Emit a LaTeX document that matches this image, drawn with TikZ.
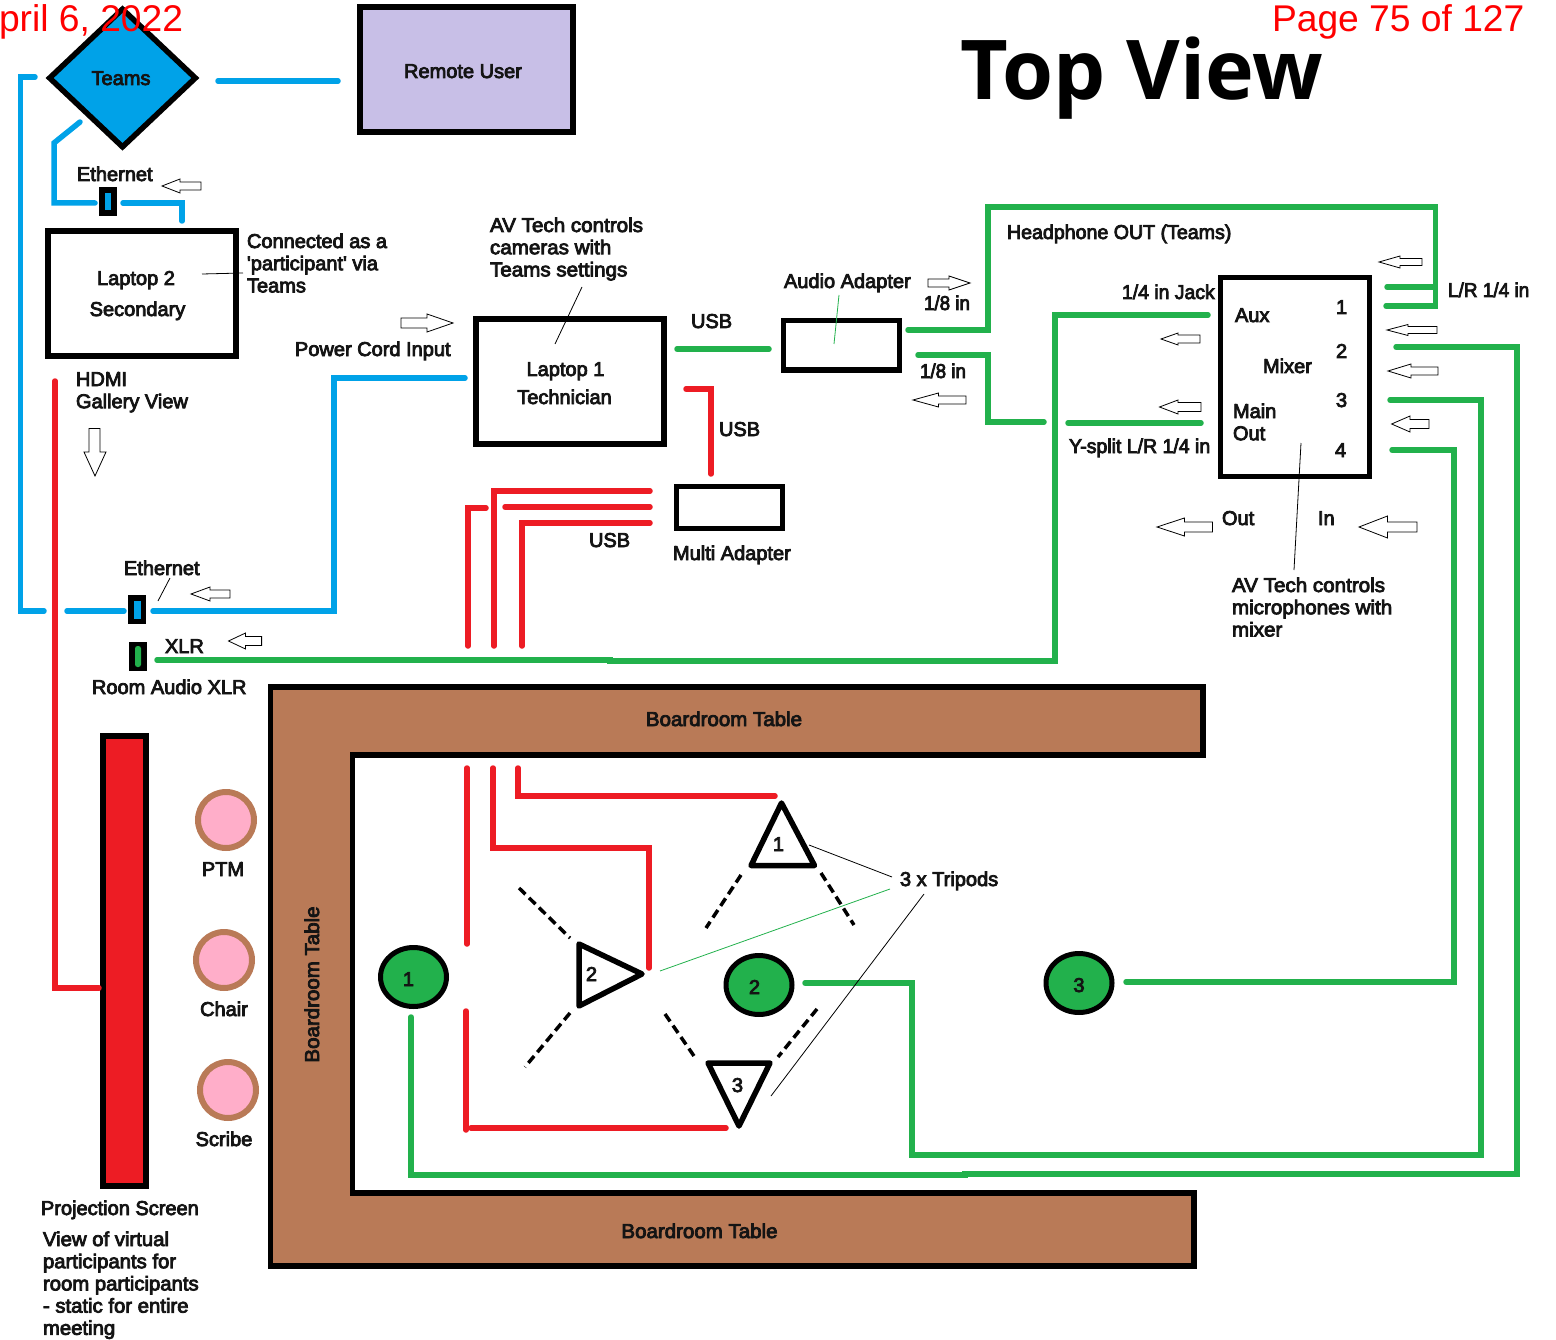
\documentclass[tikz,border=0pt]{standalone}
\usepackage{fontspec}
\usetikzlibrary{shapes.geometric}
\setmainfont{Liberation Sans}
\newfontfamily\lblfont[FakeBold=4]{Liberation Sans}
\newfontfamily\titlefont{Open Sans Bold}
\definecolor{cblue}{HTML}{00A2E8}
\definecolor{cred}{HTML}{ED1C24}
\definecolor{cgreen}{HTML}{22B14C}
\definecolor{cbrown}{HTML}{B97A57}
\definecolor{cpink}{HTML}{FFAEC9}
\definecolor{clav}{HTML}{C8BFE7}
\tikzset{
 lbl/.style={font=\lblfont\fontsize{20}{22.2}\selectfont,anchor=base west,inner sep=0pt,outer sep=0pt,align=left,text=black!92},
 clbl/.style={lbl,anchor=base,align=center},
 wire/.style={line width=5.5pt,line cap=round,line join=miter},
 bluew/.style={wire,draw=cblue},
 redw/.style={wire,draw=cred},
 greenw/.style={wire,draw=cgreen},
 box/.style={draw=black,line width=6pt,inner sep=0pt,outer sep=0pt,fill=white},
 jack/.style={draw=none,fill=black,inner sep=0pt,outer sep=0pt},
 person/.style={circle,draw=cbrown,fill=cpink,line width=6pt,minimum size=56pt,inner sep=0pt},
 mic/.style={ellipse,draw=black,fill=cgreen,line width=5pt,minimum width=66pt,minimum height=59pt,inner sep=0pt},
 tri/.style={draw=black,line width=5.5pt,line join=round,fill=white},
 leg/.style={draw=black,line width=3.5pt,dash pattern=on 9pt off 5pt},
 leader/.style={draw=black,line width=0.8pt},
 blockarrow/.style={draw=black,line width=0.8pt,fill=white},
 red big/.style={font=\fontsize{37.2}{40}\selectfont,text=red,anchor=base west,inner sep=0pt,outer sep=0pt},
}
% horizontal outline arrow: tip x, y, head-base x, tail x, shaft half, head half
\newcommand{\harrow}[6]{\draw[blockarrow] (#1,#2)--(#3,#2-#6)--(#3,#2-#5)--(#4,#2-#5)--(#4,#2+#5)--(#3,#2+#5)--(#3,#2+#6)--cycle;}
\begin{document}
\begin{tikzpicture}[x=1pt,y=-1pt]
\useasboundingbox (0,0) rectangle (1556,1340);
% ---- tables
\draw[draw=black,line width=5.5pt,fill=cbrown,line join=miter] (270.5,687)--(1203,687)--(1203,755)--(352.5,755)--(352.5,1193)--(1194,1193)--(1194,1266)--(270.5,1266)--cycle;
% ---- main boxes
\node[diamond,draw=black,fill=cblue,line width=5.5pt,minimum width=148pt,minimum height=140pt,aspect=1.06,inner sep=0pt] (teams) at (122.5,78) {};
\node[box,fill=clav,minimum width=213pt,minimum height=125pt] (remote) at (466.5,69.5) {};
\node[box,minimum width=188pt,minimum height=125pt] (lap2) at (142,293.5) {};
\node[box,minimum width=188pt,minimum height=125pt] (lap1) at (570,381.5) {};
\node[box,line width=5pt,minimum width=116pt,minimum height=49pt] (audio) at (841.5,345.5) {};
\node[box,line width=5pt,minimum width=106pt,minimum height=42pt] (multi) at (729,507.5) {};
\node[box,line width=5pt,minimum width=149pt,minimum height=199.5pt] (mixer) at (1294.5,377.2) {};
\node[box,fill=cred,minimum width=43pt,minimum height=450pt] (screen) at (124.5,961) {};
% jacks
\node[jack,minimum width=18pt,minimum height=29pt] (jackT) at (108,201.5) {};
\node[jack,fill=cblue,minimum width=6pt,minimum height=17pt] (jackTi) at (108,201.5) {};
\node[jack,minimum width=18pt,minimum height=29pt] (jackE) at (137,609.5) {};
\node[jack,fill=cblue,minimum width=7pt,minimum height=18pt] (jackEi) at (137.5,610) {};
\node[jack,minimum width=18pt,minimum height=29pt] (jackX) at (138,656.5) {};
\node[jack,fill=cgreen,rounded corners=2.5pt,minimum width=6pt,minimum height=21pt] (jackXi) at (138,656.5) {};
% people and microphones
\node[person] (ptm) at (226,820) {};
\node[person] (chair) at (224,960) {};
\node[person] (scribe) at (228,1090) {};
\node[mic] (m1) at (413.5,977) {};
\node[mic] (m2) at (759,985) {};
\node[mic] (m3) at (1079,983) {};
% ---- named wire ends
\coordinate (bA) at (35,77); \coordinate (bB) at (44,611);
\coordinate (bC) at (218,81); \coordinate (bD) at (338,81);
\coordinate (bE) at (80,122); \coordinate (bF) at (95,203);
\coordinate (bG) at (123,203); \coordinate (bH) at (182,221);
\coordinate (bI) at (67,611); \coordinate (bJ) at (124,611);
\coordinate (bK) at (153,611); \coordinate (bL) at (465,378);
\coordinate (rA) at (55,381); \coordinate (rB) at (99,988);
\coordinate (rC) at (686,389); \coordinate (rD) at (711,474);
\coordinate (rE) at (650,491); \coordinate (rF) at (494,646);
\coordinate (rG) at (650,507); \coordinate (rH) at (505,507);
\coordinate (rI) at (486,508); \coordinate (rJ) at (468,646);
\coordinate (rK) at (650,523); \coordinate (rL) at (522,646);
\coordinate (rM) at (467,768); \coordinate (rN) at (467,944);
\coordinate (rO) at (493,768); \coordinate (rP) at (649,968);
\coordinate (rQ) at (518,768); \coordinate (rR) at (775,796);
\coordinate (rS) at (466,1011); \coordinate (rT) at (466,1130);
\coordinate (rU) at (471,1128); \coordinate (rV) at (726,1128);
\coordinate (rW) at (677,349); \coordinate (rX) at (769,349);
\coordinate (gA) at (908,330); \coordinate (gB) at (1386,306);
\coordinate (gC) at (1387,287); \coordinate (gD) at (1435,287);
\coordinate (gE) at (918,355); \coordinate (gF) at (1044,422);
\coordinate (gG) at (1068,423); \coordinate (gH) at (1201,423);
\coordinate (gI) at (1208,315); \coordinate (gJ) at (157,660);
\coordinate (gK) at (1396,347); \coordinate (gL) at (411,1017);
\coordinate (gM) at (1390,400); \coordinate (gN) at (805,983);
\coordinate (gO) at (1392,450); \coordinate (gP) at (1126,982);
% ---- blue wires
\draw[bluew] (bA)--(20.5,77)--(20.5,611)--(bB);
\draw[bluew] (bC)--(bD);
\draw[bluew] (bE)--(54,143)--(54,203)--(bF);
\draw[bluew] (bG)-|(bH);
\draw[bluew] (bI)--(bJ);
\draw[bluew] (bK)--(334,611)--(334,378)--(bL);
% ---- red wires
\draw[redw] (rA)|-(rB);
\draw[redw] (rC)-|(rD);
\draw[redw] (rE)-|(rF);
\draw[redw] (rG)--(rH);
\draw[redw] (rI)-|(rJ);
\draw[redw] (rK)-|(rL);
\draw[redw] (rM)--(rN);
\draw[redw] (rO)--(493,848)--(649,848)--(rP);
\draw[redw] (rQ)|-(rR);
\draw[redw] (rS)--(rT);
\draw[redw] (rU)--(rV);
% ---- green wires
\draw[greenw] (rW)--(rX);
\draw[greenw] (gA)--(988,330)--(988,207)--(1435.5,207)--(1435.5,306)--(gB);
\draw[greenw] (gC)--(gD);
\draw[greenw] (gE)--(988,355)--(988,422)--(gF);
\draw[greenw] (gG)--(gH);
\draw[greenw] (gI)--(1055,315)--(1055,661)--(610,661)--(610,660)--(gJ);
\draw[greenw] (gK)--(1517,347)--(1517,1174)--(965,1174)--(965,1175)--(411,1175)--(gL);
\draw[greenw] (gM)--(1481,400)--(1481,1155)--(912,1155)--(912,983)--(gN);
\draw[greenw] (gO)--(1454,450)--(1454,982)--(gP);
% ---- tripods
\draw[tri] (781.5,803)--(814.5,865.5)--(751,865.5)--cycle;
\draw[tri] (579,944)--(642,974)--(579,1006)--cycle;
\draw[tri] (708,1063)--(770,1063)--(739,1126)--cycle;
\draw[leg] (741,875)--(706,928);
\draw[leg] (821,873)--(854,925);
\draw[leg] (519,888)--(570,938);
\draw[leg] (570,1013)--(525,1067);
\draw[leg] (665,1014)--(694,1056);
\draw[leg] (817,1009)--(778,1057);
% ---- labels
\node[red big] (date) at (-1,32) {pril 6, 2022};
\node[red big] (page) at (1272,32) {Page 75 of 127};
\node[anchor=base west,inner sep=0pt,font=\titlefont\fontsize{82.5}{90}\selectfont] (title) at (960,100) {Top View};
\node[clbl] (tTeams) at (121,85) {Teams};
\node[clbl] (tRemote) at (463,78) {Remote User};
\node[lbl] (tEth1) at (77,181) {Ethernet};
\node[clbl] (tL2a) at (136,285) {Laptop 2};
\node[clbl] (tL2b) at (137.5,316) {Secondary};
\node[lbl] (tConn) at (247,292.4) {Connected as a\\'participant' via\\Teams};
\node[lbl] (tPower) at (295,356) {Power Cord Input};
\node[lbl] (tHdmi) at (76,408.2) {HDMI\\Gallery View};
\node[lbl,xscale=1.03] (tAV) at (490,276.4) {AV Tech controls\\cameras with\\Teams settings};
\node[clbl] (tL1a) at (565.5,376) {Laptop 1};
\node[clbl] (tL1b) at (564.5,404) {Technician};
\node[lbl] (tU1) at (691,328) {USB};
\node[lbl] (tU2) at (719,436) {USB};
\node[lbl] (tU3) at (589,547) {USB};
\node[lbl] (tAud) at (784,288) {Audio Adapter};
\node[lbl,xscale=.94] (t18a) at (924,310) {1/8 in};
\node[lbl,xscale=.94] (t18b) at (920,378) {1/8 in};
\node[lbl,xscale=.98] (tHead) at (1007,239) {Headphone OUT (Teams)};
\node[lbl,xscale=.97] (tJack) at (1122,299) {1/4 in Jack};
\node[lbl,xscale=.95] (tLR) at (1448,297) {L/R 1/4 in};
\node[lbl] (tAux) at (1235,322) {Aux};
\node[lbl] (tMix) at (1263,373) {Mixer};
\node[lbl] (tMain) at (1233,440.2) {Main\\Out};
\node[lbl] (tN1) at (1336,314) {1};
\node[lbl] (tN2) at (1336,358) {2};
\node[lbl] (tN3) at (1336,407) {3};
\node[lbl] (tN4) at (1335,457) {4};
\node[lbl,xscale=.975] (tY) at (1069,453) {Y-split L/R 1/4 in};
\node[lbl] (tOut) at (1222,525) {Out};
\node[lbl] (tIn) at (1318,525) {In};
\node[lbl,xscale=1.03] (tAV2) at (1232,636.4) {AV Tech controls\\microphones with\\mixer};
\node[lbl] (tMulti) at (673,560) {Multi Adapter};
\node[lbl] (tEth2) at (124,575) {Ethernet};
\node[lbl] (tXLR) at (165,653) {XLR};
\node[lbl] (tRoom) at (92,694) {Room Audio XLR};
\node[clbl,xscale=1.025] (tB1) at (724,726) {Boardroom Table};
\node[clbl,xscale=1.025] (tB2) at (699.5,1238) {Boardroom Table};
\node[clbl,rotate=90,xscale=1.025] (tB3) at (319,984.5) {Boardroom Table};
\node[clbl] (tPTM) at (223,876) {PTM};
\node[clbl] (tChair) at (224,1016) {Chair};
\node[clbl] (tScribe) at (224,1146) {Scribe};
\node[lbl] (tProj) at (41,1215) {Projection Screen};
\node[lbl,xscale=1.015] (tView) at (43,1334.8) {View of virtual\\participants for\\room participants\\- static for entire\\meeting};
\node[lbl] (tTrip) at (900,886) {3 x Tripods};
\node[clbl] (nM1) at (408.5,986) {1};
\node[clbl] (nM2) at (754.5,994) {2};
\node[clbl] (nM3) at (1079,992) {3};
\node[clbl] (nT1) at (778.5,851) {1};
\node[clbl] (nT2) at (591.5,981) {2};
\node[clbl] (nT3) at (737.5,1092) {3};
% ---- thin leaders
\coordinate (lA) at (202,274); \coordinate (lB) at (243,273);
\coordinate (lC) at (582,287); \coordinate (lD) at (555,344);
\coordinate (lE) at (839,295); \coordinate (lF) at (834,344);
\coordinate (lG) at (1301,443); \coordinate (lH) at (1294,570);
\coordinate (lI) at (170,578); \coordinate (lJ) at (158,601);
\coordinate (lK) at (809,845); \coordinate (lL) at (892,877);
\coordinate (lM) at (660,971); \coordinate (lN) at (890,889);
\coordinate (lO) at (924,894); \coordinate (lP) at (771,1096);
\draw[leader] (lA)--(lB);
\draw[leader] (lC)--(lD);
\draw[leader,draw=cgreen] (lE)--(lF);
\draw[leader] (lG)--(lH);
\draw[leader] (lI)--(lJ);
\draw[leader] (lK)--(lL);
\draw[leader,draw=cgreen] (lM)--(lN);
\draw[leader] (lO)--(lP);
% ---- outline arrows
\harrow{162}{186}{180}{201}{4}{7}
\harrow{453}{323}{427}{401}{5}{9}
\harrow{970}{283}{949}{928}{4}{7}
\harrow{913}{400}{938.5}{966}{4}{7}
\harrow{1379}{262}{1400}{1422}{3.5}{6}
\harrow{1161}{339}{1178}{1200}{4}{6}
\harrow{1159.5}{407}{1178}{1201}{4.5}{7}
\harrow{1387}{330}{1408}{1437}{3.5}{5.5}
\harrow{1388}{371}{1411}{1438}{4}{7}
\harrow{1391.6}{424}{1410}{1429}{4.5}{8}
\harrow{1157}{527}{1184.5}{1212.5}{5}{9}
\harrow{1359}{527}{1387.5}{1417}{5}{11}
\harrow{191}{594}{210}{230}{4}{7}
\harrow{228.5}{641}{245.5}{261.6}{4.5}{8}
\draw[blockarrow] (95,476)--(84,452)--(89,452)--(89,428.5)--(100,428.5)--(100,452)--(106,452)--cycle;
\end{tikzpicture}
\end{document}
